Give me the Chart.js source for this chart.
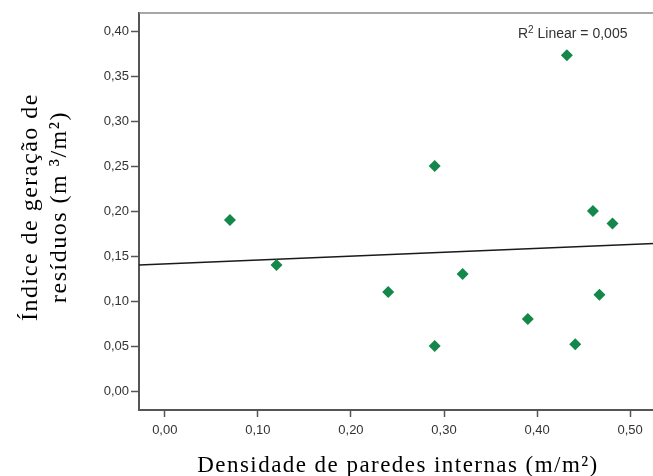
<!DOCTYPE html>
<html>
<head>
<meta charset="utf-8">
<script src="https://cdn.jsdelivr.net/npm/chart.js@4.4.1/dist/chart.umd.min.js"></script>
<style>
  html, body { margin: 0; padding: 0; background: #fff; }
  #wrap { width: 653px; height: 476px; overflow: hidden; position: relative; }
  canvas { display: block; }
</style>
</head>
<body>
<div id="wrap"><canvas id="c" width="660" height="476"></canvas></div>
<script>
// Densidade de paredes internas (m/m²) per building
const densidade = [0.070, 0.120, 0.240, 0.290, 0.290, 0.320, 0.390, 0.432, 0.460, 0.481, 0.467, 0.441];
// Índice de geração de resíduos (m³/m²) per building
const indice    = [0.190, 0.140, 0.110, 0.250, 0.050, 0.130, 0.080, 0.373, 0.200, 0.186, 0.107, 0.052];

const xTicks = [0.00, 0.10, 0.20, 0.30, 0.40, 0.50];
const yTicks = [0.00, 0.05, 0.10, 0.15, 0.20, 0.25, 0.30, 0.35, 0.40];
const xRange = [-0.0277, 0.5256];
const yRange = [-0.0211, 0.4200];

const xTitle = 'Densidade de paredes internas (m/m²)';
const yTitle = ['Índice de geração de', 'resíduos (m ³/m²)'];
const r2Text = ' Linear = 0,005';

// least-squares linear fit
function linearFit(xs, ys) {
  const n = xs.length;
  const mx = xs.reduce((a, b) => a + b, 0) / n;
  const my = ys.reduce((a, b) => a + b, 0) / n;
  let sxy = 0, sxx = 0;
  for (let i = 0; i < n; i++) { sxy += (xs[i] - mx) * (ys[i] - my); sxx += (xs[i] - mx) ** 2; }
  const b = sxy / sxx;
  return { a: my - b * mx, b };
}
const fit = linearFit(densidade, indice);
const fitLine = xRange.map(x => ({ x, y: fit.a + fit.b * x }));

const pts = densidade.map((x, i) => ({ x, y: indice[i] }));
const fmt = v => v.toFixed(2).replace('.', ',');
const tickFont = { family: 'Liberation Sans, Arial, sans-serif', size: 13 };

const decorations = {
  id: 'decorations',
  afterDraw(chart) {
    const { ctx, chartArea: ca } = chart;
    ctx.save();
    // top frame line
    ctx.strokeStyle = '#8a8a8a';
    ctx.lineWidth = 1.5;
    ctx.beginPath();
    ctx.moveTo(ca.left, ca.top);
    ctx.lineTo(ca.right, ca.top);
    ctx.stroke();

    // R² annotation
    ctx.fillStyle = '#333';
    ctx.textBaseline = 'alphabetic';
    ctx.font = '14px Liberation Sans, Arial, sans-serif';
    let x = 518, y = 38;
    ctx.fillText('R', x, y);
    x += ctx.measureText('R').width;
    ctx.font = '10px Liberation Sans, Arial, sans-serif';
    ctx.fillText('2', x, y - 5);
    x += ctx.measureText('2').width;
    ctx.font = '14px Liberation Sans, Arial, sans-serif';
    ctx.fillText(r2Text, x, y);

    // axis titles
    ctx.fillStyle = '#000';
    ctx.font = '23px Liberation Serif, Times New Roman, serif';
    ctx.letterSpacing = '1.45px';
    ctx.textAlign = 'center';
    ctx.fillText(xTitle, 398, 472);

    ctx.translate(0, 207);
    ctx.rotate(-Math.PI / 2);
    ctx.font = '24px Liberation Serif, Times New Roman, serif';
    ctx.letterSpacing = '1.5px';
    ctx.fillText(yTitle[0], 0, 37);
    ctx.fillText(yTitle[1], 0, 66);
    ctx.restore();
  }
};

new Chart(document.getElementById('c'), {
  data: {
    datasets: [
      {
        type: 'line',
        data: fitLine,
        borderColor: '#1a1a1a',
        borderWidth: 1.5,
        pointRadius: 0,
        fill: false,
        order: 2
      },
      {
        type: 'scatter',
        data: pts,
        pointStyle: 'rectRot',
        pointRadius: 6,
        backgroundColor: '#14884a',
        borderColor: '#14884a',
        borderWidth: 0,
        order: 1
      }
    ]
  },
  options: {
    responsive: false,
    animation: false,
    layout: { padding: { top: 13, left: 0, right: 0, bottom: 0 } },
    plugins: { legend: { display: false }, tooltip: { enabled: false } },
    scales: {
      x: {
        type: 'linear',
        min: xRange[0],
        max: xRange[1],
        afterBuildTicks: s => { s.ticks = xTicks.map(v => ({ value: v })); },
        afterFit: s => { s.height = 66; },
        ticks: { callback: fmt, font: tickFont, color: '#333', padding: 6, autoSkip: false, maxRotation: 0 },
        grid: { drawOnChartArea: false, drawTicks: true, tickLength: 7, tickColor: '#555', tickWidth: 1.5 },
        border: { color: '#555', width: 2 }
      },
      y: {
        type: 'linear',
        min: yRange[0],
        max: yRange[1],
        afterBuildTicks: s => { s.ticks = yTicks.map(v => ({ value: v })); },
        afterFit: s => { s.width = 139; },
        ticks: { callback: fmt, font: tickFont, color: '#333', padding: 2, autoSkip: false },
        grid: { drawOnChartArea: false, drawTicks: true, tickLength: 8, tickColor: '#555', tickWidth: 1.5 },
        border: { color: '#555', width: 2 }
      }
    }
  },
  plugins: [decorations]
});
</script>
</body>
</html>
